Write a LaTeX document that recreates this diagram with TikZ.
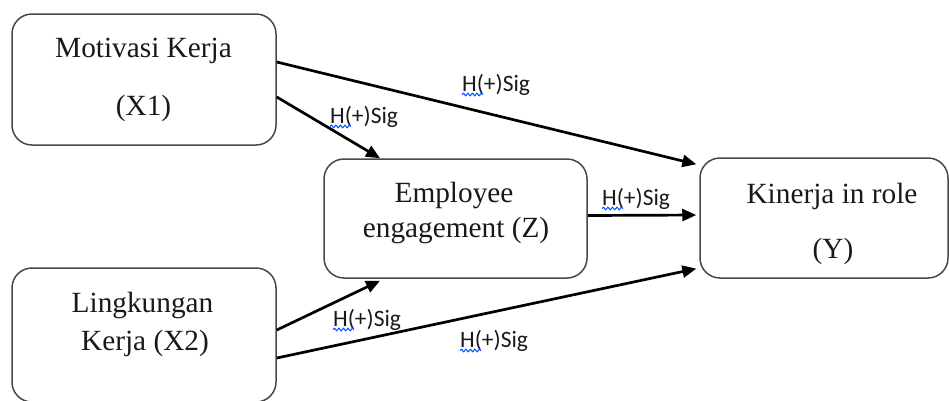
\documentclass[tikz,border=0pt]{standalone}
\usepackage{fontspec}
\setmainfont{Liberation Serif}
\newfontfamily\lblfont{Carlito}
\usetikzlibrary{arrows.meta,decorations.pathmorphing}

\tikzset{
  varbox/.style={draw=black!72, line width=1.5pt, rounded corners=20pt,
    inner sep=0pt, fill=white},
  boxtext/.style={anchor=base, inner sep=0pt,
    font=\fontsize{29.3}{34}\selectfont, text=black!90},
  hyp/.style={anchor=base west, inner sep=0pt,
    font=\lblfont\fontsize{23.5}{28}\selectfont, text=black!90},
  path/.style={line width=2.7pt, -{Triangle[length=14pt,width=12pt]}},
  squiggle/.style={draw=blue!70!cyan, line width=1pt,
    decorate, decoration={snake, segment length=4.5pt, amplitude=1.3pt}}
}

% hypothesis label with the wavy mark under its first letters
\newcommand{\hyplabel}[3]{%
  \node[hyp] (#1) at (#2,#3) {H(+)Sig};
  \draw[squiggle] ([yshift=-3.5pt]#1.base west) -- ++(21pt,0);
}

\begin{document}
\begin{tikzpicture}[x=1pt, y=-1pt]
\useasboundingbox (0,0) rectangle (949,400);

% variable boxes
\node[varbox, minimum width=264pt, minimum height=131pt] (x1) at (144,79.5) {};
\node[varbox, minimum width=264pt, minimum height=134pt] (x2) at (144,335) {};
\node[varbox, minimum width=263pt, minimum height=119pt] (z)  at (455.5,218.5) {};
\node[varbox, minimum width=248pt, minimum height=120pt] (y)  at (824,218) {};

% box texts
\node[boxtext] (x1a) at (143.5,57)  {Motivasi Kerja};
\node[boxtext] (x1b) at (143.5,115) {(X1)};
\node[boxtext] (x2a) at (142.5,312) {Lingkungan};
\node[boxtext] (x2b) at (145,350)   {Kerja (X2)};
\node[boxtext] (za)  at (454,202)   {Employee};
\node[boxtext] (zb)  at (456,237)   {engagement (Z)};
\node[boxtext] (ya)  at (832,203)   {Kinerja in role};
\node[boxtext] (yb)  at (833,258)   {(Y)};

% paths
\draw[path, shorten >=3pt] ([yshift=17.5pt]x1.east) -- ([yshift=53pt]y.west);
\draw[path] ([yshift=-17.5pt]x1.east) -- ([xshift=-75.5pt]z.north);
\draw[path, shorten >=3pt] ([yshift=3pt]z.east) -- ([yshift=3pt]y.west);
\draw[path] ([yshift=5pt]x2.east) -- ([xshift=-75.5pt,yshift=-2pt]z.south);
\draw[path, shorten >=3pt] ([yshift=-23pt]x2.east) -- ([yshift=-50pt]y.west);

% hypothesis labels
\hyplabel{h1}{462}{91}
\hyplabel{h2}{330}{123}
\hyplabel{h3}{602}{205}
\hyplabel{h4}{333}{326}
\hyplabel{h5}{460}{347}
\end{tikzpicture}
\end{document}
